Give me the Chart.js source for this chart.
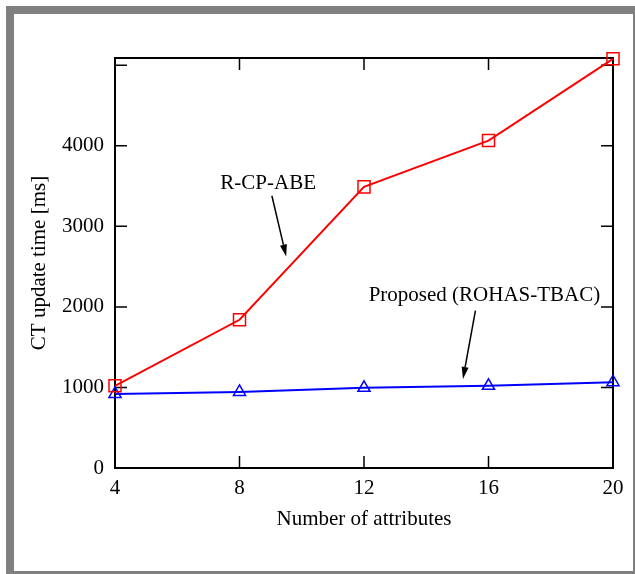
<!DOCTYPE html>
<html>
<head>
<meta charset="utf-8">
<title>CT update time</title>
<script src="https://cdn.jsdelivr.net/npm/chart.js"></script>
<style>
  html, body { margin: 0; padding: 0; background: #fff; }
  #frame {
    position: absolute; left: 6px; top: 6px;
    width: 619px; height: 557px;
    border: 8px solid #808080; background: #fff;
  }
</style>
</head>
<body>
<div id="frame"><canvas id="myChart" width="619" height="557"></canvas></div>
<script>
// data
const attributes = [4, 8, 12, 16, 20];
const rcpabe = [1020, 1840, 3490, 4065, 5080];
const proposed = [920, 945, 995, 1020, 1065];
const yTicks = [0, 1000, 2000, 3000, 4000, 5000];

// labels with arrows, in data coordinates
const notes = [
  {text: 'R-CP-ABE', at: [8.92, 3530], from: [9.04, 3380], to: [9.5, 2625]},
  {text: 'Proposed (ROHAS-TBAC)', at: [15.87, 2140], from: [15.58, 1955], to: [15.18, 1105]}
];

const serif = "'Liberation Serif', 'Times New Roman', serif";

const frameBox = {
  id: 'frameBox',
  beforeDatasetsDraw(chart) {
    const {ctx, chartArea: a, scales: {x, y}} = chart;
    ctx.save();
    ctx.strokeStyle = '#000';
    ctx.lineWidth = 1.5;
    const tl = 12;
    ctx.beginPath();
    attributes.forEach(v => {
      const px = x.getPixelForValue(v);
      ctx.moveTo(px, a.bottom); ctx.lineTo(px, a.bottom - tl);
      ctx.moveTo(px, a.top); ctx.lineTo(px, a.top + tl);
    });
    yTicks.forEach(v => {
      const py = y.getPixelForValue(v);
      ctx.moveTo(a.left, py); ctx.lineTo(a.left + tl, py);
      ctx.moveTo(a.right, py); ctx.lineTo(a.right - tl, py);
    });
    ctx.stroke();
    ctx.lineWidth = 2;
    ctx.strokeRect(a.left, a.top, a.right - a.left, a.bottom - a.top);
    ctx.restore();
  },
  afterDraw(chart) {
    const {ctx, scales: {x, y}} = chart;
    ctx.save();
    ctx.fillStyle = '#000';
    ctx.strokeStyle = '#000';
    ctx.font = '21px ' + serif;
    ctx.textAlign = 'center';
    ctx.textBaseline = 'middle';
    notes.forEach(n => {
      ctx.fillText(n.text, x.getPixelForValue(n.at[0]), y.getPixelForValue(n.at[1]));
      const x1 = x.getPixelForValue(n.from[0]), y1 = y.getPixelForValue(n.from[1]);
      const x2 = x.getPixelForValue(n.to[0]), y2 = y.getPixelForValue(n.to[1]);
      const ang = Math.atan2(y2 - y1, x2 - x1);
      const hl = 12, hw = 3.5;
      ctx.lineWidth = 1.5;
      ctx.beginPath();
      ctx.moveTo(x1, y1);
      ctx.lineTo(x2 - hl * Math.cos(ang), y2 - hl * Math.sin(ang));
      ctx.stroke();
      ctx.beginPath();
      ctx.moveTo(x2, y2);
      ctx.lineTo(x2 - hl * Math.cos(ang) + hw * Math.sin(ang), y2 - hl * Math.sin(ang) - hw * Math.cos(ang));
      ctx.lineTo(x2 - hl * Math.cos(ang) - hw * Math.sin(ang), y2 - hl * Math.sin(ang) + hw * Math.cos(ang));
      ctx.closePath();
      ctx.fill();
    });
    ctx.restore();
  }
};

Chart.defaults.font.family = serif;
Chart.defaults.font.size = 21;
Chart.defaults.color = '#000';

new Chart(document.getElementById('myChart').getContext('2d'), {
  type: 'line',
  data: {
    datasets: [
      {
        label: 'R-CP-ABE',
        data: attributes.map((a, i) => ({x: a, y: rcpabe[i]})),
        borderColor: '#ff0000',
        borderWidth: 2,
        pointStyle: 'rect',
        pointRadius: 8.5,
        pointBorderWidth: 1.5,
        pointBorderColor: '#ff0000',
        pointBackgroundColor: 'rgba(0,0,0,0)',
        clip: false
      },
      {
        label: 'Proposed (ROHAS-TBAC)',
        data: attributes.map((a, i) => ({x: a, y: proposed[i]})),
        borderColor: '#0000ff',
        borderWidth: 2,
        pointStyle: 'triangle',
        pointRadius: 7,
        pointBorderWidth: 1.5,
        pointBorderColor: '#0000ff',
        pointBackgroundColor: 'rgba(0,0,0,0)',
        clip: false
      }
    ]
  },
  options: {
    responsive: false,
    animation: false,
    layout: {padding: {left: 0, right: 20, top: 44, bottom: 0}},
    plugins: {legend: {display: false}, tooltip: {enabled: false}},
    scales: {
      x: {
        type: 'linear',
        min: 4, max: 20,
        grid: {display: false, drawTicks: false},
        border: {display: false},
        ticks: {stepSize: 4, padding: 8},
        afterBuildTicks(scale) { scale.ticks = attributes.map(v => ({value: v})); },
        title: {display: true, text: 'Number of attributes', padding: {top: 0, bottom: 39}},
        afterFit(scale) { scale.height = 103; }
      },
      y: {
        min: 0, max: 5090,
        grid: {display: false, drawTicks: false},
        border: {display: false},
        ticks: {
          padding: 11,
          callback: v => (v === 5000 ? '' : v)
        },
        afterBuildTicks(scale) { scale.ticks = yTicks.map(v => ({value: v})); },
        title: {display: true, text: 'CT update time [ms]', padding: {top: 13, bottom: 0}},
        afterFit(scale) { scale.width = 101; }
      }
    }
  },
  plugins: [frameBox]
});
</script>
</body>
</html>
